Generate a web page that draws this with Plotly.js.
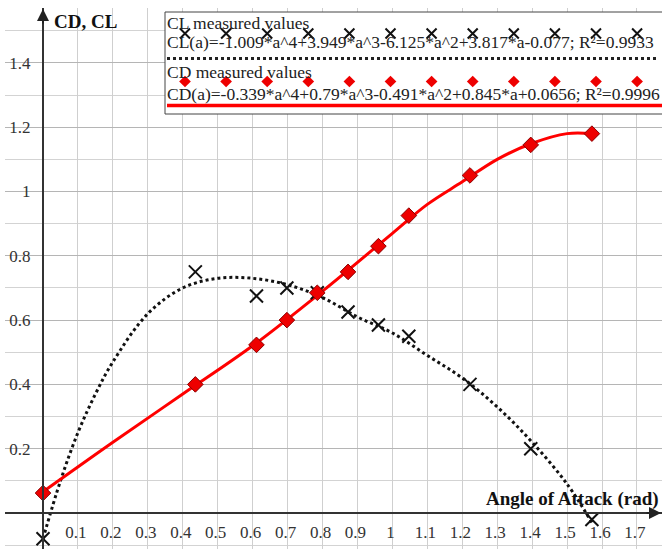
<!DOCTYPE html>
<html><head><meta charset="utf-8">
<script src="https://cdn.plot.ly/plotly-3.0.1.min.js"></script>
<style>html,body{margin:0;padding:0;background:#fff;} #chart{width:662px;height:549px;}</style>
</head><body><div id="chart"></div>
<script>
// ---- Data (angle of attack in rad) ----
const clAngle = [0, 0.436, 0.611, 0.698, 0.785, 0.873, 0.960, 1.047, 1.222, 1.396, 1.571];
const clValue = [-0.08, 0.75, 0.675, 0.70, 0.685, 0.625, 0.585, 0.55, 0.40, 0.20, -0.02];
const cdAngle = [0, 0.436, 0.611, 0.698, 0.785, 0.873, 0.960, 1.047, 1.222, 1.396, 1.571];
const cdValue = [0.062, 0.40, 0.523, 0.60, 0.685, 0.75, 0.83, 0.925, 1.05, 1.145, 1.18];
// fitted curves
const clFitAngle = [0, 0.05, 0.1, 0.15, 0.2, 0.3, 0.4, 0.5, 0.6, 0.7, 0.8, 0.9, 1.0, 1.1, 1.2, 1.3, 1.4, 1.5, 1.571];
const clFitValue = [-0.08, 0.10, 0.25, 0.37, 0.47, 0.62, 0.70, 0.73, 0.73, 0.71, 0.67, 0.61, 0.56, 0.49, 0.42, 0.33, 0.22, 0.09, -0.03];
const cdFitAngle = [0, 0.2, 0.4, 0.6, 0.8, 1.0, 1.1, 1.2, 1.3, 1.4, 1.5, 1.571];
const cdFitValue = [0.066, 0.22, 0.37, 0.52, 0.69, 0.87, 0.96, 1.03, 1.10, 1.15, 1.18, 1.18];
// ticks and texts
const xTickVals = [0.1, 0.2, 0.3, 0.4, 0.5, 0.6, 0.7, 0.8, 0.9, 1, 1.1, 1.2, 1.3, 1.4, 1.5, 1.6, 1.7];
const yTickVals = [0.2, 0.4, 0.6, 0.8, 1, 1.2, 1.4];
const yTitle = "CD, CL";
const xTitle = "Angle of Attack (rad)";
const legendTexts = [
  "CL measured values",
  "CL(a)=-1.009*a^4+3.949*a^3-6.125*a^2+3.817*a-0.077; R²=0.9933",
  "CD measured values",
  "CD(a)=-0.339*a^4+0.79*a^3-0.491*a^2+0.845*a+0.0656; R²=0.9996"
];

// ---- Layout geometry (pixels) ----
const W = 662, H = 549, ML = 5, MR = 0, MT = 8, MB = 0;
const FONT = "Liberation Serif";
const legendSwatchCount = 12;
const swatchX = [];
for (let i = 0; i < legendSwatchCount; i++) swatchX.push(185 + 41.1 * i);

const pxPerX = 349.4, pxPerY = 321.5, x0px = 43, y0px = 513;
const xr = [-(x0px - ML) / pxPerX, (W - MR - x0px) / pxPerX];
const yr = [-(H - MB - y0px) / pxPerY, (y0px - MT) / pxPerY];
const dx = px => (px - x0px) / pxPerX;   // pixel -> data (layout decoration only)
const dy = py => (y0px - py) / pxPerY;

const traces = [
  { x: clFitAngle, y: clFitValue, mode: 'lines', line: { shape: 'spline', color: '#111', width: 3, dash: 'dot' }, hoverinfo: 'skip', showlegend: false },
  { x: cdFitAngle, y: cdFitValue, mode: 'lines', line: { shape: 'spline', color: '#ff0000', width: 3 }, hoverinfo: 'skip', showlegend: false },
  { x: clAngle, y: clValue, mode: 'markers', marker: { symbol: 'x-thin', size: 13, line: { width: 2, color: '#111' }, color: '#111' }, showlegend: false },
  { x: cdAngle, y: cdValue, mode: 'markers', marker: { symbol: 'diamond', size: 12, color: '#ee0000', line: { width: 1, color: '#8a0000' } }, showlegend: false },
  // legend swatches (overlay pixel axes)
  { x: swatchX, y: swatchX.map(() => 33.5), xaxis: 'x2', yaxis: 'y2', mode: 'markers', marker: { symbol: 'x-thin', size: 10, line: { width: 2, color: '#111' } }, showlegend: false, hoverinfo: 'skip' },
  { x: swatchX, y: swatchX.map(() => 81.5), xaxis: 'x2', yaxis: 'y2', mode: 'markers', marker: { symbol: 'diamond', size: 9, color: '#ee0000' }, showlegend: false, hoverinfo: 'skip' }
];

const tickFont = { family: FONT, size: 17, color: '#333' };
const legFont = { family: FONT, size: 17.5, color: '#222' };

const layout = {
  width: W, height: H,
  margin: { l: ML, r: MR, t: MT, b: MB, pad: 0 },
  paper_bgcolor: '#fff', plot_bgcolor: '#fff',
  showlegend: false,
  font: { family: FONT },
  xaxis: {
    range: xr, anchor: 'free', position: (H - MB - y0px) / (H - MT - MB),
    tickmode: 'array', tickvals: xTickVals, ticks: '', tickfont: tickFont,
    ticklabelstandoff: 4, ticklabelshift: -2,
    showgrid: true, gridcolor: '#cfcfcf', gridwidth: 1,
    zeroline: false, showline: true, linecolor: '#333', linewidth: 2
  },
  yaxis: {
    range: yr, anchor: 'free', position: (x0px - ML) / (W - ML - MR),
    tickmode: 'array', tickvals: yTickVals, ticks: '', tickfont: tickFont,
    ticklabelstandoff: 8,
    showgrid: true, gridcolor: '#b5b5b5', gridwidth: 1,
    minor: { tick0: 0, dtick: 0.1, showgrid: true, gridcolor: '#d3d3d3', gridwidth: 1, ticks: '' },
    zeroline: false, showline: true, linecolor: '#333', linewidth: 2
  },
  xaxis2: { overlaying: 'x', anchor: 'y2', range: [ML, W - MR], visible: false, fixedrange: true },
  yaxis2: { overlaying: 'y', anchor: 'x2', range: [H - MB, MT], visible: false, fixedrange: true },
  shapes: [
    { type: 'rect', xref: 'x', yref: 'y', x0: dx(165), x1: dx(664), y0: dy(12), y1: dy(114), fillcolor: '#fff', line: { color: '#444', width: 1 }, layer: 'between' },
    { type: 'line', xref: 'x', yref: 'y', x0: dx(167), x1: dx(657), y0: dy(58.5), y1: dy(58.5), line: { color: '#222', width: 3, dash: 'dot' }, layer: 'above' },
    { type: 'line', xref: 'x', yref: 'y', x0: dx(167), x1: dx(662), y0: dy(105.5), y1: dy(105.5), line: { color: '#ff0000', width: 3.5 }, layer: 'above' }
  ],
  annotations: [
    { xref: 'x2', yref: 'y2', x: 165, y: 23, text: legendTexts[0], showarrow: false, xanchor: 'left', yanchor: 'middle', font: legFont },
    { xref: 'x2', yref: 'y2', x: 165, y: 42, text: legendTexts[1], showarrow: false, xanchor: 'left', yanchor: 'middle', font: legFont },
    { xref: 'x2', yref: 'y2', x: 165, y: 71.5, text: legendTexts[2], showarrow: false, xanchor: 'left', yanchor: 'middle', font: legFont },
    { xref: 'x2', yref: 'y2', x: 165, y: 94, text: legendTexts[3], showarrow: false, xanchor: 'left', yanchor: 'middle', font: legFont },
    { xref: 'x2', yref: 'y2', x: 52, y: 21, text: '<b>' + yTitle + '</b>', showarrow: false, xanchor: 'left', yanchor: 'middle', font: { family: FONT, size: 19, color: '#111' } },
    { xref: 'x2', yref: 'y2', x: 484, y: 499, text: '<b>' + xTitle + '</b>', showarrow: false, xanchor: 'left', yanchor: 'middle', font: { family: FONT, size: 19, color: '#111' } },
    // axis arrowheads
    { xref: 'x2', yref: 'y2', x: x0px, y: 9, ax: 0, ay: 16, text: '', showarrow: true, arrowhead: 2, arrowsize: 1.2, arrowwidth: 2, arrowcolor: '#222' },
    { xref: 'x2', yref: 'y2', x: 661, y: y0px, ax: -16, ay: 0, text: '', showarrow: true, arrowhead: 2, arrowsize: 1.2, arrowwidth: 2, arrowcolor: '#222' }
  ]
};

Plotly.newPlot('chart', traces, layout, { staticPlot: true, displayModeBar: false });
</script>
</body></html>
